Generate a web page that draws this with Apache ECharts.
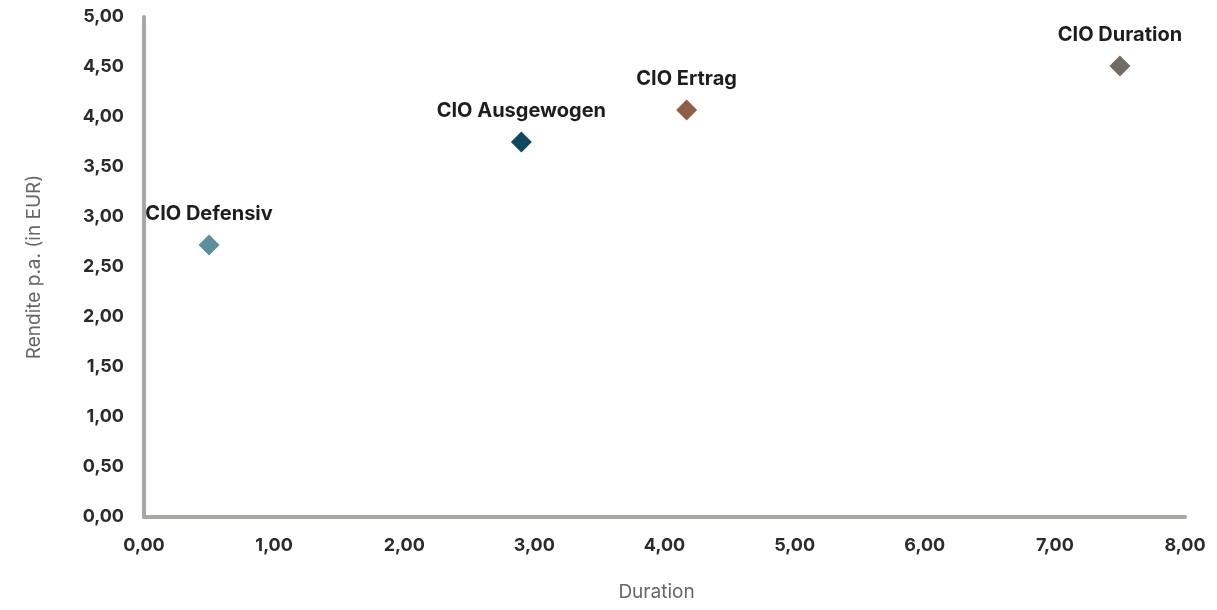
<!DOCTYPE html>
<html>
<head>
<meta charset="utf-8">
<script src="https://cdn.jsdelivr.net/npm/echarts@6/dist/echarts.min.js"></script>
<style>
  html, body { margin: 0; padding: 0; background: #fff; }
  #chart { width: 1217px; height: 610px; }
</style>
</head>
<body>
<div id="chart"></div>
<script>
// Fonds: Name, Duration, Rendite p.a.
var fundNames = ['CIO Defensiv', 'CIO Ausgewogen', 'CIO Ertrag', 'CIO Duration'];
var durations = [0.5, 2.9, 4.17, 7.5];
var returns = [2.72, 3.75, 4.07, 4.51];
var fundColors = ['#5b8f9c', '#0e4a5f', '#8e5f47', '#726b65'];

var fmt = function(v) { return v.toFixed(2).replace('.', ','); };

var chart = echarts.init(document.getElementById('chart'));

var points = [];
for (var i = 0; i < fundNames.length; i++) {
    points.push({
        name: fundNames[i],
        value: [durations[i], returns[i]],
        itemStyle: { color: fundColors[i], opacity: 1 }
    });
}

var option = {
    animation: false,
    grid: { left: 144, right: 32, top: 17, bottom: 93 },
    xAxis: {
        type: 'value',
        min: 0, max: 8, interval: 1,
        name: 'Duration',
        nameLocation: 'middle',
        nameGap: 66,
        nameTextStyle: { color: '#666', fontSize: 19, fontFamily: 'Inter', padding: [0, 16, 0, 0] },
        axisLine: { show: true, lineStyle: { color: '#aaa6a1', width: 4 } },
        axisTick: { show: false },
        splitLine: { show: false },
        axisLabel: {
            formatter: fmt, color: '#2b2b2b', fontSize: 18, fontWeight: 'bold',
            fontFamily: 'Inter', margin: 20
        }
    },
    yAxis: {
        type: 'value',
        min: 0, max: 5, interval: 0.5,
        name: 'Rendite p.a. (in EUR)',
        nameLocation: 'middle',
        nameGap: 100,
        nameTextStyle: { color: '#666', fontSize: 19, fontFamily: 'Inter' },
        axisLine: { show: true, lineStyle: { color: '#aaa6a1', width: 4 } },
        axisTick: { show: false },
        splitLine: { show: false },
        axisLabel: {
            formatter: fmt, color: '#2b2b2b', fontSize: 18, fontWeight: 'bold',
            fontFamily: 'Inter', margin: 20
        }
    },
    series: [{
        type: 'scatter',
        symbol: 'diamond',
        symbolSize: 21,
        itemStyle: { opacity: 1 },
        data: points,
        label: {
            show: true,
            position: 'top',
            distance: 11,
            formatter: '{b}',
            color: '#1f1d1d',
            fontSize: 20,
            fontWeight: 'bold',
            fontFamily: 'Inter'
        }
    }]
};

chart.setOption(option);
</script>
</body>
</html>
